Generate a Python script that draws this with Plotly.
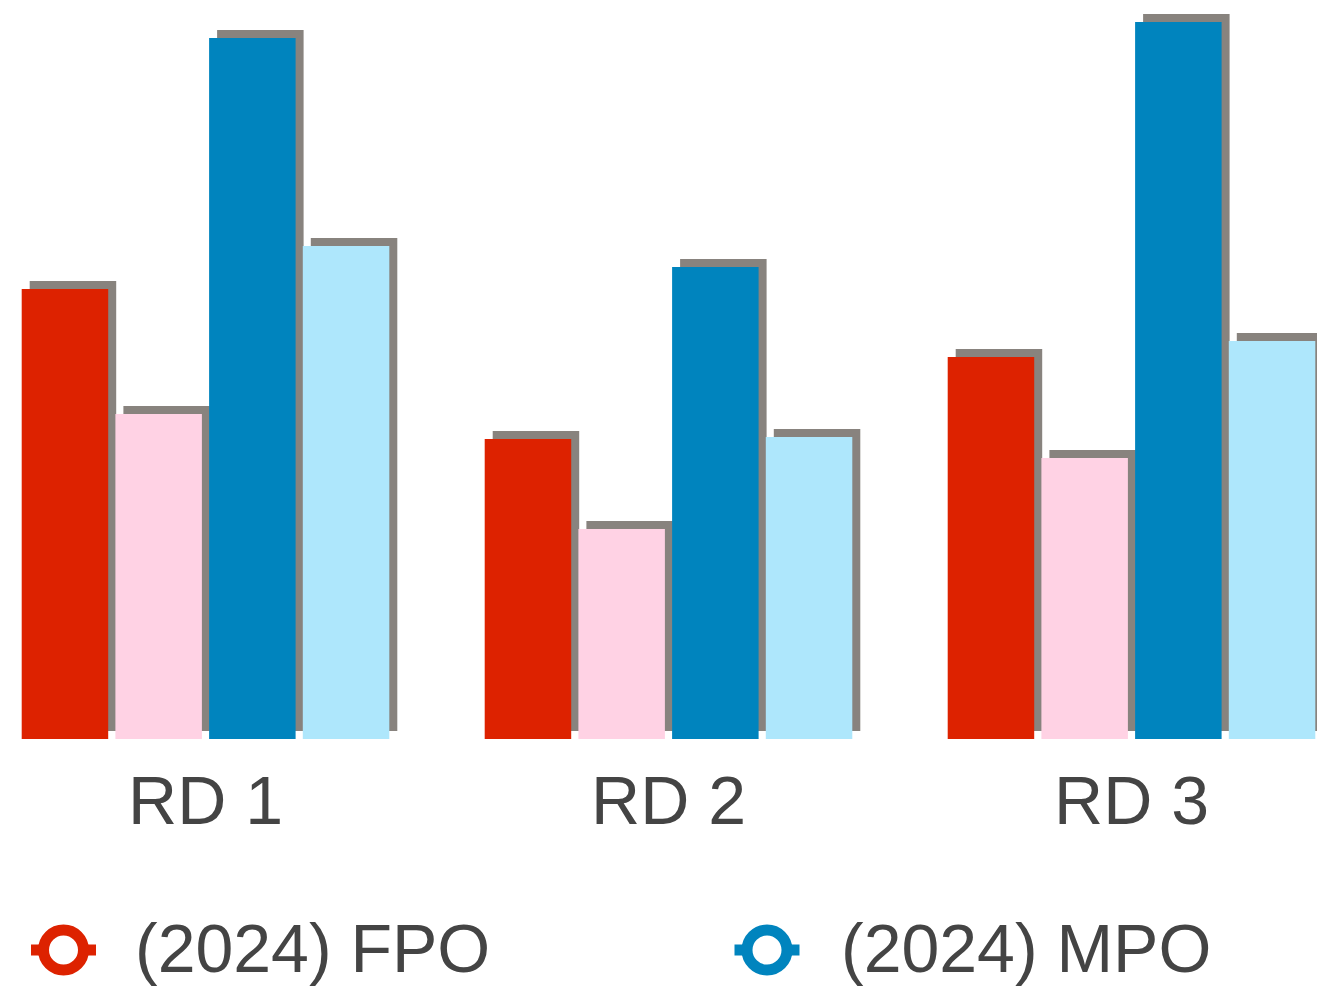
import plotly.graph_objects as go

# ---------------- data ----------------
categories = ["RD 1", "RD 2", "RD 3"]
fpo_2024 = [45.0, 30.0, 38.2]
fpo_prior = [32.5, 21.0, 28.1]
mpo_2024 = [70.1, 47.2, 71.7]
mpo_prior = [49.3, 30.2, 39.8]

series_names = ["(2024) FPO", "FPO (prior)", "(2024) MPO", "MPO (prior)"]
series_values = [fpo_2024, fpo_prior, mpo_2024, mpo_prior]
series_colors = ["#dd2200", "#ffd2e4", "#0084be", "#aee7fc"]
legend_labels = ["(2024) FPO", "(2024) MPO"]
legend_colors = ["#dd2200", "#0084be"]

# ---------------- geometry / style ----------------
W, H = 1317, 988
PLOT_BOTTOM = 739             # px from top where the baseline sits
PX_PER_UNIT_Y = 10.0
Y_MAX = PLOT_BOTTOM / PX_PER_UNIT_Y
CAT_SPACING_PX = 463.0
FIRST_CENTER_PX = 205.5
X_LEFT = -FIRST_CENTER_PX / CAT_SPACING_PX
X_RIGHT = X_LEFT + W / CAT_SPACING_PX

SLOT = 93.7 / CAT_SPACING_PX
BAR_W = 86.5 / CAT_SPACING_PX
GROUP_START = -2 * SLOT
SHADOW_DX = 8 / CAT_SPACING_PX
SHADOW_DY = 8 / PX_PER_UNIT_Y
SHADOW_COLOR = "#88837e"
FONT = "Liberation Sans, Arial, Helvetica, sans-serif"
TEXT_COLOR = "#444444"
TICK_SIZE = 68
LEGEND_SIZE = 68

fig = go.Figure()

# shadows first
for i, vals in enumerate(series_values):
    off = GROUP_START + i * SLOT + (SLOT - BAR_W) / 2
    fig.add_trace(go.Bar(
        x=categories, y=vals, base=SHADOW_DY,
        offset=off + SHADOW_DX, width=BAR_W,
        marker=dict(color=SHADOW_COLOR, line=dict(width=0)),
        showlegend=False, hoverinfo="skip", name=series_names[i] + " shadow",
    ))

for i, vals in enumerate(series_values):
    off = GROUP_START + i * SLOT + (SLOT - BAR_W) / 2
    fig.add_trace(go.Bar(
        x=categories, y=vals, offset=off, width=BAR_W,
        marker=dict(color=series_colors[i], line=dict(width=0)),
        name=series_names[i], showlegend=False,
    ))

# ---------------- manual legend (large icons) ----------------
def px_x(px):
    return px / W

def px_y(py):
    return (PLOT_BOTTOM - py) / PLOT_BOTTOM

legend_icon_cx = [63.5, 767.0]
legend_text_x = [133.0, 839.0]
LEG_Y = 950.0
shapes = []
annotations = []
for k, lab in enumerate(legend_labels):
    cx = legend_icon_cx[k]
    col = legend_colors[k]
    shapes.append(dict(type="line", xref="paper", yref="paper",
                       x0=px_x(cx - 32.5), x1=px_x(cx + 32.5),
                       y0=px_y(LEG_Y), y1=px_y(LEG_Y),
                       line=dict(color=col, width=11)))
    shapes.append(dict(type="circle", xref="paper", yref="paper",
                       x0=px_x(cx - 20), x1=px_x(cx + 20),
                       y0=px_y(LEG_Y - 20), y1=px_y(LEG_Y + 20),
                       fillcolor="white", line=dict(color=col, width=11)))
    annotations.append(dict(text=lab, xref="paper", yref="paper",
                            x=px_x(legend_text_x[k]), y=px_y(LEG_Y - 2),
                            xanchor="left", yanchor="middle", showarrow=False,
                            font=dict(family=FONT, size=LEGEND_SIZE, color=TEXT_COLOR)))

fig.update_layout(
    width=W, height=H, autosize=False,
    margin=dict(l=0, r=0, t=0, b=H - PLOT_BOTTOM, pad=0),
    barmode="overlay",
    paper_bgcolor="white", plot_bgcolor="white",
    showlegend=False,
    font=dict(family=FONT, size=TICK_SIZE, color=TEXT_COLOR),
    xaxis=dict(type="category", range=[X_LEFT, X_RIGHT], showgrid=False,
               zeroline=False, showline=False, ticks="", ticklabelstandoff=16,
               tickfont=dict(family=FONT, size=TICK_SIZE, color=TEXT_COLOR)),
    yaxis=dict(range=[0, Y_MAX], visible=False, showgrid=False, zeroline=False),
    shapes=shapes,
    annotations=annotations,
)

fig.write_html(
    "out.html",
    config={"displayModeBar": False},
    default_width=f"{W}px", default_height=f"{H}px",
    post_script="document.body.style.margin='0';document.body.style.overflow='hidden';",
)
